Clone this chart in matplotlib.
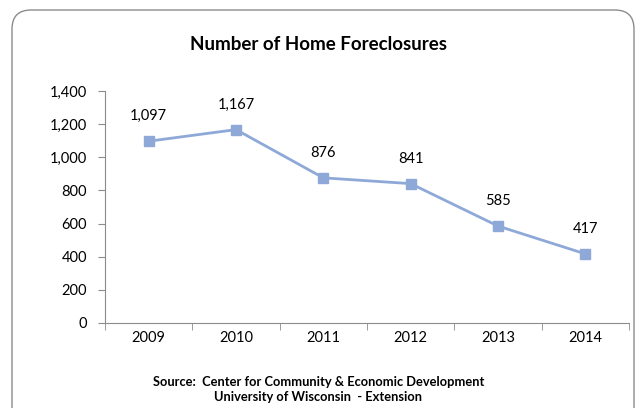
import matplotlib.pyplot as plt
from matplotlib.patches import FancyBboxPatch
from matplotlib.ticker import FuncFormatter

years = ["2009", "2010", "2011", "2012", "2013", "2014"]
foreclosures = [1097, 1167, 876, 841, 585, 417]
yticks = [0, 200, 400, 600, 800, 1000, 1200, 1400]

plt.rcParams['font.family'] = ['Lato', 'DejaVu Sans']

fig = plt.figure(figsize=(6.37, 4.08), dpi=100)
W, H = 637, 408

# rounded frame around the chart
frame = FancyBboxPatch((12 / W, -0.05), 622 / W, 1 - 10 / H + 0.05,
                       boxstyle="round,pad=0,rounding_size=0.03",
                       transform=fig.transFigure, facecolor="none",
                       edgecolor="#8c8c8c", linewidth=1.0, mutation_aspect=W / H,
                       zorder=-1)
fig.patches.append(frame)

ax = fig.add_axes([105 / W, 1 - 323 / H, (629 - 105) / W, (323 - 91) / H])
ax.set_facecolor("none")

x = list(range(len(years)))
line_col = "#8EA9D8"
ax.plot(x, foreclosures, color=line_col, linewidth=2, marker="s",
        markersize=7, markerfacecolor=line_col, markeredgecolor=line_col,
        clip_on=False)
for xi, v in zip(x, foreclosures):
    ax.annotate(f"{v:,}", (xi, v), xytext=(0, 13), textcoords="offset points",
                ha="center", va="bottom", fontsize=10.5)

ax.set_xlim(-0.5, len(years) - 0.5)
ax.set_ylim(0, 1400)
ax.set_yticks(yticks)
ax.yaxis.set_major_formatter(FuncFormatter(lambda v, p: f"{int(v):,}"))
ax.set_xticks(x)
ax.set_xticklabels(years)
ax.set_xticks([i - 0.5 for i in range(len(years) + 1)], minor=True)
ax.tick_params(axis="x", which="major", length=0, pad=6, labelsize=10.5)
ax.tick_params(axis="x", which="minor", length=5, color="#8c8c8c", direction="out")
ax.tick_params(axis="y", length=5, color="#8c8c8c", labelsize=10.5, pad=8)

for s in ["top", "right"]:
    ax.spines[s].set_visible(False)
for s in ["left", "bottom"]:
    ax.spines[s].set_color("#8c8c8c")

fig.text(0.5, 1 - 45 / H, "Number of Home Foreclosures", ha="center", va="center",
         fontsize=13.5, fontweight="bold")
fig.text(0.5, 1 - 382 / H, "Source:  Center for Community & Economic Development",
         ha="center", va="center", fontsize=9.3, fontweight="bold")
fig.text(0.5, 1 - 397 / H, "University of Wisconsin  - Extension",
         ha="center", va="center", fontsize=9.3, fontweight="bold")

fig.savefig("out.png", dpi=100)
